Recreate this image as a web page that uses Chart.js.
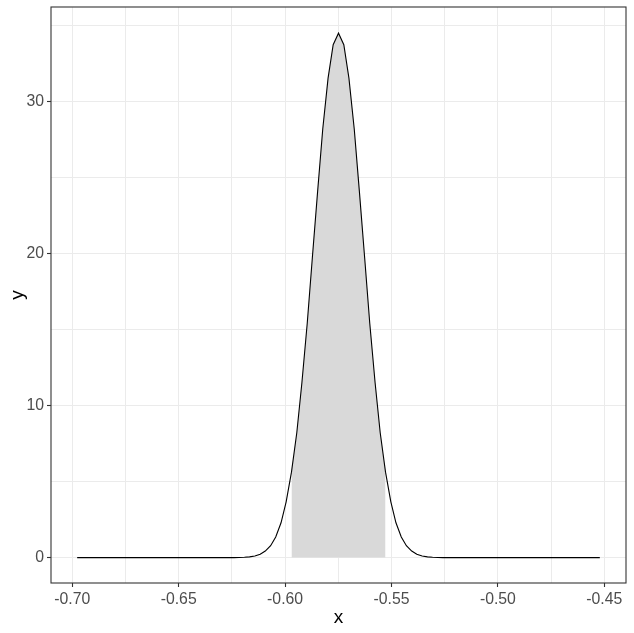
<!DOCTYPE html>
<html>
<head>
<meta charset="utf-8">
<script src="https://cdn.jsdelivr.net/npm/chart.js@4/dist/chart.umd.min.js"></script>
<style>
  html, body { margin: 0; padding: 0; background: #ffffff; }
</style>
</head>
<body>
<canvas id="densityChart" width="634" height="633"></canvas>
<script>
// density curve (tails are flat at 0)
const xValues = [
  -0.6977, -0.6240, -0.6216, -0.6191, -0.6167, -0.6142, -0.6117, -0.6093, -0.6068,
  -0.6044, -0.6019, -0.5995, -0.5970, -0.5945, -0.5921, -0.5896, -0.5872, -0.5847,
  -0.5823, -0.5798, -0.5774, -0.5749, -0.5724, -0.5700, -0.5675, -0.5651, -0.5626,
  -0.5602, -0.5577, -0.5553, -0.5528, -0.5503, -0.5479, -0.5454, -0.5430, -0.5405,
  -0.5381, -0.5356, -0.5331, -0.5307, -0.5282, -0.5258, -0.4521
];
const yValues = [
  0, 0, 0.01, 0.02, 0.05, 0.11, 0.22, 0.43, 0.78,
  1.36, 2.29, 3.67, 5.62, 8.21, 11.50, 15.40, 19.70, 24.10,
  28.19, 31.53, 33.73, 34.49, 33.73, 31.53, 28.19, 24.10, 19.70,
  15.40, 11.50, 8.21, 5.62, 3.67, 2.29, 1.36, 0.78, 0.43,
  0.22, 0.11, 0.05, 0.02, 0.01, 0, 0
];

// shaded interval
const shadeLow = -0.5970;
const shadeHigh = -0.5528;

const xMajorTicks = [-0.70, -0.65, -0.60, -0.55, -0.50, -0.45];
const xMinorTicks = [-0.675, -0.625, -0.575, -0.525, -0.475];
const yMajorTicks = [0, 10, 20, 30];
const yMinorTicks = [5, 15, 25, 35];

function isMajor(list, v) {
    return list.some(m => Math.abs(m - v) < 1e-9);
}

const curvePoints = xValues.map((x, i) => ({ x: x, y: yValues[i] }));
const shadePoints = curvePoints.filter(p => p.x >= shadeLow - 1e-9 && p.x <= shadeHigh + 1e-9);

const panelBorder = {
    id: 'panelBorder',
    afterDraw(chart) {
        const { ctx, chartArea: a } = chart;
        ctx.save();
        ctx.strokeStyle = '#333333';
        ctx.lineWidth = 1.1;
        ctx.strokeRect(a.left, a.top, a.right - a.left, a.bottom - a.top);
        ctx.restore();
    }
};

function gridOptions(majors) {
    return {
        color: '#ebebeb',
        lineWidth: 1,
        drawTicks: true,
        tickLength: 4,
        tickWidth: 1.1,
        tickColor: (ctx) => (ctx.tick && isMajor(majors, ctx.tick.value)) ? '#333333' : 'rgba(0,0,0,0)'
    };
}

const ctx = document.getElementById('densityChart').getContext('2d');

new Chart(ctx, {
    type: 'line',
    data: {
        datasets: [
            {
                data: curvePoints,
                borderColor: '#000000',
                borderWidth: 1.1,
                pointRadius: 0,
                tension: 0,
                fill: false,
                order: 1
            },
            {
                data: shadePoints,
                borderWidth: 0,
                borderColor: 'rgba(0,0,0,0)',
                backgroundColor: '#d9d9d9',
                pointRadius: 0,
                tension: 0,
                fill: 'origin',
                order: 2
            }
        ]
    },
    options: {
        responsive: false,
        animation: false,
        layout: { padding: { top: 7, right: 8, left: 0, bottom: 0 } },
        plugins: {
            legend: { display: false },
            tooltip: { enabled: false }
        },
        scales: {
            x: {
                type: 'linear',
                min: -0.7100,
                max: -0.4398,
                afterBuildTicks: (scale) => {
                    scale.ticks = xMajorTicks.concat(xMinorTicks).sort((a, b) => a - b).map(v => ({ value: v }));
                },
                afterFit: (scale) => {
                    scale.height = 50;
                    scale.paddingLeft = 0;
                    scale.paddingRight = 0;
                },
                grid: gridOptions(xMajorTicks),
                border: { display: false },
                ticks: {
                    autoSkip: false,
                    maxRotation: 0,
                    padding: 3,
                    color: '#4d4d4d',
                    font: { family: 'Liberation Sans', size: 15.8 },
                    callback: (v) => isMajor(xMajorTicks, v) ? v.toFixed(2) : ''
                },
                title: {
                    display: true,
                    text: 'x',
                    color: '#000000',
                    padding: 4,
                    font: { family: 'Liberation Sans', size: 19 }
                }
            },
            y: {
                type: 'linear',
                min: -1.67,
                max: 36.21,
                afterBuildTicks: (scale) => {
                    scale.ticks = yMajorTicks.concat(yMinorTicks).sort((a, b) => a - b).map(v => ({ value: v }));
                },
                afterFit: (scale) => {
                    scale.width = 51;
                    scale.paddingTop = 0;
                    scale.paddingBottom = 0;
                },
                grid: gridOptions(yMajorTicks),
                border: { display: false },
                ticks: {
                    autoSkip: false,
                    padding: 3,
                    color: '#4d4d4d',
                    font: { family: 'Liberation Sans', size: 15.8 },
                    callback: (v) => isMajor(yMajorTicks, v) ? String(v) : ''
                },
                title: {
                    display: true,
                    text: 'y',
                    color: '#000000',
                    padding: { top: 6, bottom: 4 },
                    font: { family: 'Liberation Sans', size: 19 }
                }
            }
        }
    },
    plugins: [panelBorder]
});
</script>
</body>
</html>
